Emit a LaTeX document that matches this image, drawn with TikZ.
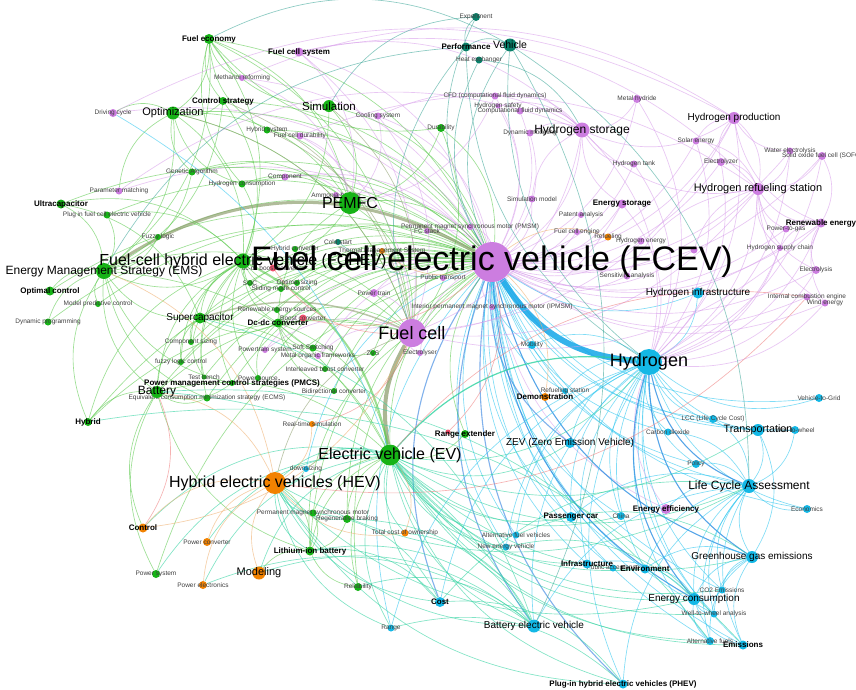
\documentclass[tikz,border=0pt]{standalone}
\usepackage{fontspec}
\setmainfont{Liberation Sans}
\usetikzlibrary{backgrounds}
\definecolor{cgreen}{HTML}{16B316}
\definecolor{cpurp}{HTML}{CC7DE0}
\definecolor{ccyan}{HTML}{14B8E6}
\definecolor{corange}{HTML}{F28200}
\definecolor{cteal}{HTML}{0A806A}
\definecolor{cred}{HTML}{F2506E}
\definecolor{egreen}{HTML}{5CCB4E}
\definecolor{ecyan}{HTML}{2CC6F0}
\definecolor{epurp}{HTML}{D9A0EC}
\definecolor{eaqua}{HTML}{2ED3A0}
\definecolor{eolive}{HTML}{8FA070}
\definecolor{eblue}{HTML}{2E7FE0}
\definecolor{ered}{HTML}{F08080}
\definecolor{eorange}{HTML}{F0B070}
\definecolor{eteal}{HTML}{3FA89A}
\tikzset{kw/.style={circle,inner sep=0pt,minimum size=#1},
  gr/.style={kw=#1,fill=cgreen}, pu/.style={kw=#1,fill=cpurp},
  cy/.style={kw=#1,fill=ccyan}, og/.style={kw=#1,fill=corange},
  tl/.style={kw=#1,fill=cteal}, rd/.style={kw=#1,fill=cred},
  lA/.style={font=\fontsize{34}{36}\selectfont},
  lH/.style={font=\fontsize{18}{20}\selectfont},
  lG/.style={font=\fontsize{16}{18}\selectfont},
  lM/.style={font=\fontsize{12}{14}\selectfont},
  lS/.style={font=\fontsize{10}{12}\selectfont},
  lK/.style={font=\bfseries\fontsize{8}{9}\selectfont},
  lT/.style={font=\fontsize{6.5}{7}\selectfont,text=black!75},
  lnk/.style={line width=.65pt,opacity=.6},
  eg/.style={lnk,draw=egreen}, ec/.style={lnk,draw=ecyan}, ep/.style={lnk,draw=epurp},
  ea/.style={lnk,draw=eaqua}, eo/.style={lnk,draw=eolive}, eb/.style={lnk,draw=eblue,line width=1.1pt},
  er/.style={lnk,draw=ered}, eor/.style={lnk,draw=eorange}, et/.style={lnk,draw=eteal}}

\begin{document}
\begin{tikzpicture}[x=1pt,y=-1pt]
\useasboundingbox (0,0) rectangle (856,689);

% small green
\node[gr=7pt,label={[lT]center:Genetic Algorithm}] (genetic) at (192,172) {};
\node[gr=7pt,label={[lT]center:Hydrogen consumption}] (hydcons) at (242,184) {};
\node[gr=7pt,label={[lT]center:Hybrid system}] (hybsys) at (267,130) {};
\node[gr=8pt,label={[lT]center:Durability}] (durab) at (441,128) {};
\node[gr=7pt,label={[lT]center:Plug in fuel cell electric vehicle}] (plugfc) at (107,215) {};
\node[gr=6pt,label={[lT]center:Fuzzy logic}] (fuzzy) at (158,237) {};
\node[gr=6pt,label={[lT]center:Model predictive control}] (mpc) at (98,304) {};
\node[gr=7pt,label={[lT]center:Dynamic programming}] (dynprog) at (48,322) {};
\node[gr=6pt,label={[lT]center:Component sizing}] (compsz) at (191,342) {};
\node[gr=6pt,label={[lT]center:fuzzy logic control}] (fuzzyctrl) at (181,362) {};
\node[gr=5pt,label={[lT]center:Test bench}] (testb) at (204,377) {};
\node[gr=7pt,label={[lT]center:Equivalent consumption minimization strategy (ECMS)}] (ecms) at (207,398) {};
\node[gr=6pt,label={[lT]center:Hybrid converter}] (hybconv) at (295,249) {};
\node[gr=6pt,label={[lT]center:SOC}] (soc) at (250,283) {};
\node[gr=6pt,label={[lT]center:Optimal sizing}] (optsz) at (297,283) {};
\node[gr=6pt,label={[lT]center:Sliding mode control}] (smc) at (281,289) {};
\node[gr=6pt,label={[lT]center:Renewable energy sources}] (rensrc) at (277,310) {};
\node[gr=7pt,label={[lT]center:Soft Switching}] (softsw) at (313,348) {};
\node[gr=6pt,label={[lT]center:ZVS}] (zvs) at (373,353) {};
\node[gr=6pt,label={[lT]center:Interleaved boost converter}] (interl) at (325,369) {};
\node[gr=6pt,label={[lT]center:Power source}] (psrc) at (258,378) {};
\node[gr=6pt,label={[lT]center:Bidirectional converter}] (bidir) at (334,391) {};
\node[gr=7pt,label={[lT]center:Permanent magnet synchronous motor}] (pmsm2) at (313,513) {};
\node[gr=8pt,label={[lT]center:Regenerative braking}] (regen) at (347,519) {};
\node[gr=8pt,label={[lT]center:Reliability}] (reliab) at (358,587) {};
\node[gr=8pt,label={[lT]center:Power system}] (powsys) at (156,574) {};
% small teal
\node[tl=8pt,label={[lT]center:Experiment}] (exper) at (476,17) {};
\node[tl=7pt,label={[lT]center:Heat exchanger}] (heatex) at (479,60) {};
\node[tl=6pt,label={[lT]center:Cold start}] (coldst) at (338,242) {};
% small purple
\node[pu=8pt,label={[lT]center:Driving cycle}] (drivcyc) at (113,113) {};
\node[pu=7pt,label={[lT]center:Parameter matching}] (param) at (119,191) {};
\node[pu=6pt,label={[lT]center:Methanol reforming}] (methanol) at (242,78) {};
\node[pu=7pt,label={[lT]center:Cooling system}] (cooling) at (378,116) {};
\node[pu=7pt,label={[lT]center:Fuel cell durability}] (fcdur) at (300,136) {};
\node[pu=7pt,label={[lT]center:Component}] (compon) at (285,177) {};
\node[pu=6pt,label={[lT]center:Ammonia borane}] (ammonia) at (336,195) {};
\node[pu=7pt,label={[lT]center:CFD (computational fluid dynamics)}] (cfd) at (495,96) {};
\node[pu=5pt,label={[lT]center:Hydrogen safety}] (h2safe) at (498,106) {};
\node[pu=7pt,label={[lT]center:Computational fluid dynamics}] (compfd) at (520,111) {};
\node[pu=7pt,label={[lT]center:Dynamic modeling}] (dynmod) at (530,133) {};
\node[pu=8pt,label={[lT]center:Metal hydride}] (metal) at (637,99) {};
\node[pu=7pt,label={[lT]center:Hydrogen tank}] (h2tank) at (634,164) {};
\node[pu=7pt,label={[lT]center:Simulation model}] (simmod) at (532,199) {};
\node[pu=6pt,label={[lT]center:Patent analysis}] (patent) at (581,215) {};
\node[pu=6pt,label={[lT]center:Fuel cell engine}] (fceng) at (577,232) {};
\node[pu=6pt,label={[lT]center:Permanent magnet synchronous motor (PMSM)}] (pmsm) at (470,227) {};
\node[pu=6pt,label={[lT]center:FC stack}] (fcstack) at (427,231) {};
\node[pu=7pt,label={[lT]center:Solar energy}] (solar) at (696,141) {};
\node[pu=8pt,label={[lT]center:Electrolyzer}] (electrolyzer) at (721,162) {};
\node[pu=7pt,label={[lT]center:Water electrolysis}] (water) at (790,151) {};
\node[pu=8pt,label={[lT]center:Solid oxide fuel cell (SOFC)}] (sofc) at (822,156) {};
\node[pu=7pt,label={[lT]center:Power-to-gas}] (p2g) at (786,229) {};
\node[pu=6pt,label={[lT]center:Hydrogen supply chain}] (h2supply) at (780,248) {};
\node[pu=7pt,label={[lT]center:Hydrogen energy}] (h2energy) at (641,241) {};
\node[pu=7pt] (hecon) at (694,250) {};
\node[pu=7pt,label={[lT]center:Sensitivity analysis}] (sens) at (627,276) {};
\node[pu=8pt,label={[lT]center:Electrolysis}] (electrolysis) at (816,270) {};
\node[pu=7pt,label={[lT]center:Internal combustion engine}] (ice) at (807,297) {};
\node[pu=7pt,label={[lT]center:Wind energy}] (wind) at (825,303) {};
\node[pu=6pt,label={[lT]center:Public transport}] (pubtr) at (443,278) {};
\node[pu=6pt,label={[lT]center:Interior permanent magnet synchronous motor (IPMSM)}] (ipmsm) at (492,307) {};
\node[pu=8pt,label={[lT]center:Power train}] (ptrain) at (374,293) {};
\node[pu=6pt,label={[lT]center:Powertrain system}] (ptsys) at (265,350) {};
\node[pu=6pt,label={[lT]center:Metal organic frameworks}] (mof) at (318,356) {};
\node[pu=6pt,label={[lT]center:Electrolyser}] (electrolyser) at (420,353) {};
% small cyan
\node[cy=8pt,label={[lT]center:Vehicle-to-Grid}] (v2g) at (819,398) {};
\node[cy=8pt,label={[lT]center:LCC (Life Cycle Cost)}] (lcc) at (713,419) {};
\node[cy=7pt,label={[lT]center:Carbon dioxide}] (carbon) at (668,432) {};
\node[cy=8pt,label={[lT]center:Well-to-wheel}] (wtw) at (795,430) {};
\node[cy=8pt,label={[lT]center:Mobility}] (mobility) at (532,345) {};
\node[cy=6pt,label={[lT]center:Refueling station}] (refst) at (565,391) {};
\node[cy=8pt,label={[lT]center:Policy}] (policy) at (696,464) {};
\node[cy=8pt,label={[lT]center:Economics}] (econ) at (807,509) {};
\node[cy=7pt,label={[lT]center:CO2 Emissions}] (co2) at (722,590) {};
\node[cy=7pt,label={[lT]center:Well-to-wheel analysis}] (wtwa) at (714,614) {};
\node[cy=8pt,label={[lT]center:Alternative fuels}] (altf) at (710,641) {};
\node[cy=8pt,label={[lT]center:China}] (china) at (621,516) {};
\node[cy=7pt,label={[lT]center:Alternative fuel vehicles}] (afv) at (516,535) {};
\node[cy=7pt,label={[lT]center:New energy vehicle}] (nev) at (506,547) {};
\node[cy=7pt,label={[lT]center:Public acceptance}] (pubacc) at (613,568) {};
\node[cy=6pt,label={[lT]center:downsizing}] (downsz) at (306,469) {};
\node[cy=7pt,label={[lT]center:Range}] (range) at (391,628) {};
% small orange and red
\node[og=8pt,label={[lT]center:Power converter}] (pconv) at (207,542) {};
\node[og=8pt,label={[lT]center:Power electronics}] (pelec) at (203,585) {};
\node[og=7pt,label={[lT]center:Total cost of ownership}] (tco) at (405,533) {};
\node[og=6pt,label={[lT]center:Real-time simulation}] (realtime) at (312,424) {};
\node[og=6pt,label={[lT]center:Thermal Management System}] (thermal) at (382,251) {};
\node[og=7pt,label={[lT]center:Refueling}] (refuel) at (608,237) {};
\node[rd=7pt,label={[lT]center:dc-dc boost converter}] (dcboost) at (273,268) {};
\node[rd=7pt,label={[lT]center:Boost converter}] (boost) at (303,318) {};
\node[rd=5pt] (redx) at (448,432) {};

% bold labels
\node[gr=10pt,label={[lK]center:Fuel economy}] (fueleco) at (209,39) {};
\node[gr=8pt,label={[lK]center:Control strategy}] (ctrlstr) at (223,101) {};
\node[gr=9pt,label={[lK]center:Ultracapacitor}] (ultracap) at (61,204) {};
\node[gr=9pt,label={[lK]center:Optimal control}] (optctrl) at (50,291) {};
\node[gr=6pt,label={[lK]center:Power management control strategies (PMCS)}] (pmcs) at (232,383) {};
\node[gr=8pt,label={[lK]center:Hybrid}] (hybrid) at (88,422) {};
\node[gr=9pt,label={[lK]center:Dc-dc converter}] (dcdc) at (278,323) {};
\node[gr=8pt,label={[lK]center:Range extender}] (rangeext) at (465,434) {};
\node[gr=9pt,label={[lK]center:Lithium-ion battery}] (liion) at (310,551) {};
\node[tl=9pt,label={[lK]center:Performance}] (perf) at (466,47) {};
\node[pu=9pt,label={[lK]center:Fuel cell system}] (fcsys) at (299,52) {};
\node[pu=9pt,label={[lK]center:Energy storage}] (estor) at (622,204) {};
\node[pu=9pt,label={[lK]center:Renewable energy}] (renew) at (821,223) {};
\node[pu=10pt,label={[lK]center:Energy efficiency}] (energyeff) at (666,509) {};
\node[og=8pt,label={[lK]center:Demonstration}] (demo) at (545,397) {};
\node[og=9pt,label={[lK]center:Control}] (control) at (143,528) {};
\node[cy=10pt,label={[lK]center:Passenger car}] (pcar) at (571,517) {};
\node[cy=9pt,label={[lK]center:Infrastructure}] (infra) at (587,564) {};
\node[cy=9pt,label={[lK]center:Environment}] (env) at (645,569) {};
\node[cy=9pt,label={[lK]center:Emissions}] (emis) at (743,645) {};
\node[cy=10pt,label={[lK]center:Cost}] (cost) at (440,602) {};
\node[cy=9pt,label={[lK]center:Plug-in hybrid electric vehicles (PHEV)}] (phev) at (623,684) {};

% medium
\node[gr=13pt,label={[lS,font=\fontsize{11}{13}\selectfont]center:Optimization}] (optim) at (173,113) {};
\node[gr=12pt,label={[lS,font=\fontsize{11.5}{13}\selectfont]center:Simulation}] (simul) at (329,106) {};
\node[gr=11pt,label={[lS]center:Supercapacitor}] (supercap) at (200,318) {};
\node[gr=12pt,label={[lM]center:Battery}] (battery) at (157,392) {};
\node[tl=13pt,label={[lS,font=\fontsize{10.5}{12}\selectfont]center:Vehicle}] (vehicle) at (510,45) {};
\node[pu=12pt,label={[lS]center:Hydrogen production}] (h2prod) at (734,118) {};
\node[pu=12pt,label={[lS,font=\fontsize{11}{13}\selectfont]center:Hydrogen refueling station}] (h2ref) at (758,189) {};
\node[pu=15pt,label={[lM]center:Hydrogen storage}] (h2stor) at (582,130) {};
\node[cy=11pt,label={[lS]center:Hydrogen infrastructure}] (h2infra) at (698,293) {};
\node[cy=12pt,label={[lS,font=\fontsize{10.7}{12}\selectfont]center:Transportation}] (transp) at (758,430) {};
\node[cy=10pt,label={[lS]center:ZEV (Zero Emission Vehicle)}] (zev) at (570,443) {};
\node[cy=14pt,label={[lM]center:Life Cycle Assessment}] (lca) at (749,486) {};
\node[cy=12pt,label={[lS]center:Greenhouse gas emissions}] (ghg) at (752,557) {};
\node[cy=12pt,label={[lS]center:Energy consumption}] (econs) at (694,599) {};
\node[cy=13pt,label={[lS]center:Battery electric vehicle}] (bev) at (534,626) {};
\node[og=13pt,label={[lS,font=\fontsize{11}{13}\selectfont]center:Modeling}] (modeling) at (259,573) {};

% large
\node[gr=16pt,label={[lM]center:Energy Management Strategy (EMS)}] (ems) at (104,271) {};
\node[og=22pt,label={[lG]center:Hybrid electric vehicles (HEV)}] (hev) at (275,483) {};
\node[gr=21pt,label={[lG]center:Electric vehicle (EV)}] (ev) at (390,455) {};
\node[gr=22pt,label={[lG]center:PEMFC}] (pemfc) at (350,203) {};
\node[cy=26pt,label={[lH]center:Hydrogen}] (hydrogen) at (649,362) {};
\node[pu=28pt,label={[lH]center:Fuel cell}] (fc) at (412,333) {};
\node[gr=15pt,label={[lG]center:Fuel-cell hybrid electric vehicle (FCHEV)}] (fchev) at (243,261) {};
\node[pu=40pt,label={[lA]center:Fuel cell electric vehicle (FCEV)}] (fcev) at (492,262) {};

\begin{scope}[on background layer]
\fill[white] (0,0) rectangle (856,689);
% links of the main vehicle keyword
\foreach \t in {h2stor,h2prod,h2ref,fcsys,metal,electrolyzer,solar,water,sofc,renew,p2g,electrolysis,ice,wind,h2supply,h2energy,sens,fceng,estor,patent,simmod,cfd,compfd,dynmod,cooling,fcdur,methanol,drivcyc,ptrain,ptsys,pubtr,ipmsm,pmsm,fcstack,h2tank,param,compon,ammonia,mof,electrolyser,energyeff,h2safe,hecon}
  \draw[ep] (fcev) to[bend right=28] (\t);
\foreach \t in {h2infra,lca,transp,ghg,econs,emis,env,infra,pcar,mobility,v2g,policy,econ,co2,wtwa,altf,china,afv,nev,refst,wtw,lcc,carbon,range,downsz,pubacc}
  \draw[ec] (fcev) to[bend right=28] (\t);
\foreach \t in {bev,phev,cost,zev,econs,ghg}
  \draw[eb] (fcev) to[bend right=28] (\t);
\foreach \t in {pemfc,fchev,ev,optim,fueleco,ctrlstr,simul,durab,supercap,battery,dcdc,hybsys,hydcons,genetic,ultracap,plugfc,optctrl,dynprog,hybrid,soc,optsz,smc,rensrc,liion,regen,reliab,rangeext,powsys,psrc,bidir,interl,softsw,zvs,pmcs,ecms,testb,compsz,fuzzy,fuzzyctrl,mpc,hybconv}
  \draw[eg] (fcev) to[bend right=28] (\t);
\draw[ec,draw=ccyan!90!blue,line width=6pt,opacity=.85] (fcev) to[bend right=27] (hydrogen);
\draw[eo,line width=3pt,opacity=.7] (fcev) to[bend right=32] (ems);
% hydrogen
\foreach \t in {lca,transp,h2infra,v2g,ghg,econs,emis,env,infra,pcar,bev,zev,lcc,carbon,policy,econ,co2,wtw,altf,wtwa,phev,china,mobility,refst,cost,afv,nev,range}
  \draw[ec] (hydrogen) to[bend right=28] (\t);
\foreach \t in {h2prod,h2ref,h2stor,renew,electrolysis,p2g,wind,water,sofc,solar,electrolyzer,h2supply,energyeff,metal,h2tank,estor}
  \draw[ep] (hydrogen) to[bend right=28] (\t);
\foreach \t in {ghg,econs,lca}
  \draw[eb] (hydrogen) to[bend right=28] (\t);
\draw[ea,line width=1.2pt,opacity=.8] (hydrogen) to[bend right=28] (ev);
% fuel cell
\foreach \t in {h2stor,h2prod,h2ref,fcsys,electrolyser,estor,renew,fcdur,cooling,ptrain,mof,ptsys}
  \draw[ep] (fc) to[bend right=28] (\t);
\foreach \t in {pemfc,fchev,ems,battery,dcdc,optim,fueleco,hybrid,liion,durab}
  \draw[eg] (fc) to[bend right=28] (\t);
\draw[eo,line width=4pt,opacity=.75] (fc) to[bend right=20] (ev);
\draw[eo,line width=1.5pt] (fc) to[bend right=20] (supercap);
\foreach \t in {optim,simul,hev,hybsys,ctrlstr}
  \draw[eo] (fc) to[bend right=28] (\t);
% electric vehicle
\foreach \t in {hev,bev,zev,lca,cost,range,pcar,phev,econs,ghg,infra,env,emis,nev,afv,tco,modeling,transp,control,pelec,pconv,powsys,downsz,china,hydrogen,altf,wtwa,co2}
  \draw[ea] (ev) to[bend right=28] (\t);
\foreach \t in {ems,battery,supercap,liion,rangeext,regen,pmsm2,reliab,dcdc}
  \draw[eg] (ev) to[bend right=28] (\t);
\draw[eg,line width=2pt,opacity=.6] (ev) to[bend right=25] (fchev);
% life cycle assessment
\foreach \t in {ghg,econs,emis,econ,energyeff,transp,co2,wtwa,policy,altf,bev,env,wtw,lcc,carbon,phev,pcar}
  \draw[ec] (lca) to[bend right=28] (\t);
\foreach \t in {econs,emis,co2,env,transp,wtwa,altf}
  \draw[ec] (ghg) to[bend right=28] (\t);
\foreach \t in {emis,co2,wtwa,env,infra,altf}
  \draw[ec] (econs) to[bend right=28] (\t);
% energy management
\foreach \t in {fchev,optim,fueleco,optctrl,dynprog,mpc,supercap,battery,hybrid,fuzzy,ultracap,pmcs,ecms,ctrlstr,genetic,plugfc}
  \draw[eg] (ems) to[bend right=28] (\t);
\foreach \t in {supercap,battery,pemfc,fueleco,optim,ctrlstr,hydcons,dcdc,pmcs,ecms,ultracap,plugfc,simul,optsz,soc,smc,rensrc,compsz,fuzzyctrl,testb,psrc,hybrid}
  \draw[eg] (fchev) to[bend right=28] (\t);
\foreach \t in {simul,durab,hybsys,hydcons,dcdc,fueleco,optim,genetic}
  \draw[eg] (pemfc) to[bend right=28] (\t);
\foreach \t in {fcsys,cooling,fcdur,compon,ammonia,methanol,cfd}
  \draw[ep] (pemfc) to[bend right=28] (\t);
\foreach \t in {fueleco,drivcyc,genetic,ctrlstr,hydcons,param}
  \draw[eg] (optim) to[bend right=28] (\t);
\foreach \t in {ctrlstr,hydcons,simul,methanol,durab,hybsys}
  \draw[eg] (fueleco) to[bend right=28] (\t);
\foreach \t in {battery,dcdc,compsz,fuzzyctrl,testb,ultracap}
  \draw[eg] (supercap) to[bend right=28] (\t);
\foreach \t in {boost,interl,bidir,softsw,zvs,rensrc,psrc}
  \draw[eg] (dcdc) to[bend right=28] (\t);
\foreach \t in {hybrid,liion,powsys,control,pmcs,ecms}
  \draw[eg] (battery) to[bend right=28] (\t);
\foreach \t in {hev,reliab,modeling,pmsm2,regen}
  \draw[eg] (liion) to[bend right=28] (\t);
% hybrid electric vehicles
\foreach \t in {control,pconv,pelec,modeling,tco,realtime,battery,ems}
  \draw[eor] (hev) to[bend right=28] (\t);
\foreach \t in {liion,regen,pmsm2,downsz,range,bev,lca,phev,cost,econs}
  \draw[ea] (hev) to[bend right=28] (\t);
% cross links of the lower half
\foreach \a/\b in {bev/battery,bev/supercap,bev/liion,cost/liion,bev/reliab,bev/regen,bev/modeling,bev/tco,phev/range,phev/cost,bev/pelec,cost/pmsm2,ghg/afv,econs/nev,lca/cost,emis/hybrid,altf/battery}
  \draw[ea] (\a) to[bend right=28] (\b);
% hydrogen chain
\foreach \t in {metal,h2tank,h2prod,h2ref,cfd,h2safe,compfd,dynmod,estor,simmod}
  \draw[ep] (h2stor) to[bend right=28] (\t);
\foreach \t in {h2prod,solar,electrolyzer,water,sofc,renew,p2g,h2supply,electrolysis,wind}
  \draw[ep] (h2ref) to[bend right=28] (\t);
\foreach \t in {solar,electrolyzer,water,renew}
  \draw[ep] (h2prod) to[bend right=28] (\t);
\foreach \t in {p2g,wind,electrolysis,sofc,h2supply}
  \draw[ep] (renew) to[bend right=28] (\t);
\foreach \a/\b in {h2ref/fcsys,h2stor/fcsys,h2prod/methanol,h2prod/drivcyc,h2stor/cooling,h2ref/fcdur,h2ref/sens,h2ref/hecon,h2stor/param}
  \draw[ep] (\a) to[bend right=28] (\b);
% others
\foreach \a/\b in {vehicle/perf,exper/perf,vehicle/fcev,vehicle/hydrogen,heatex/fcev,perf/fc,coldst/fcev,exper/fcev,vehicle/fueleco,perf/hydrogen,bev/vehicle,lca/vehicle,h2stor/heatex,perf/ems,exper/simul}
  \draw[et] (\a) to[bend right=28] (\b);
\draw[ec] (ev) to[bend right=20] (drivcyc);
\foreach \a/\b in {boost/fcev,dcboost/fc,ice/ev,redx/fcev,control/battery,realtime/fc,hev/ice}
  \draw[er] (\a) to[bend right=28] (\b);
\foreach \a/\b in {demo/fcev,thermal/fcev,refuel/fcev,control/fc,tco/ev}
  \draw[eor] (\a) to[bend right=28] (\b);
\end{scope}
\end{tikzpicture}
\end{document}
